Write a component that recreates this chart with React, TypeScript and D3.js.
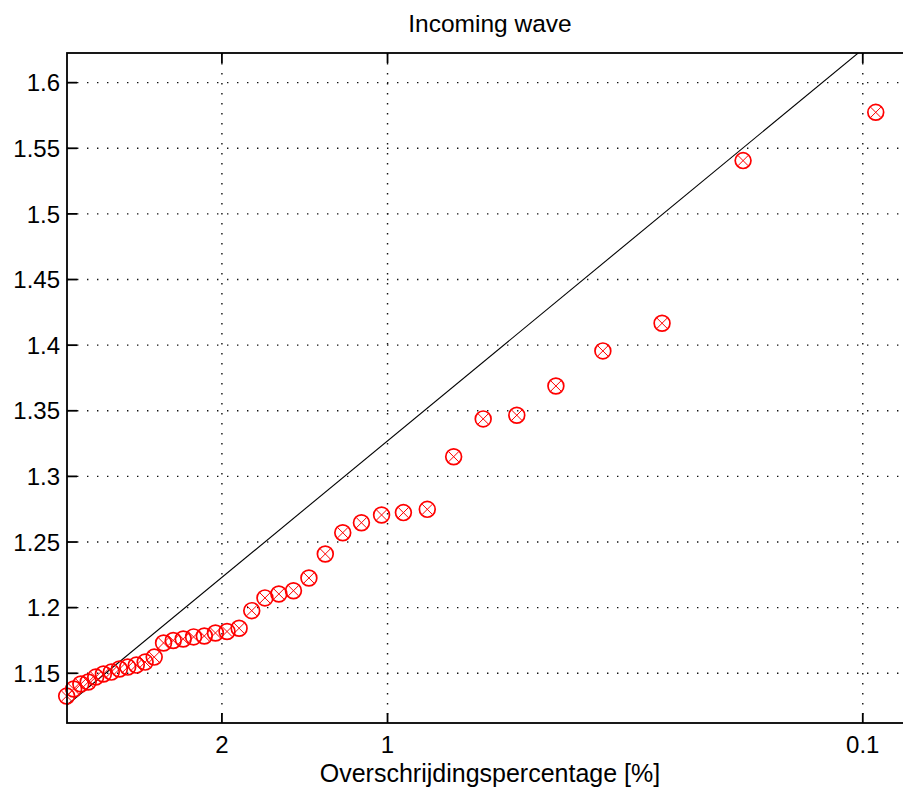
import React from 'react';
import * as d3 from 'd3';

// Exceedance percentage [%] of each ranked wave height
const exceedPct = [
  0.0933, 0.1866, 0.2799, 0.3732, 0.4665, 0.5598, 0.6531, 0.7464, 0.8397, 0.933,
  1.0263, 1.1196, 1.2129, 1.3062, 1.3995, 1.4928, 1.5861, 1.6794, 1.7727, 1.866,
  1.9593, 2.0526, 2.1459, 2.2392, 2.3325, 2.4258, 2.5191, 2.6124, 2.7057, 2.799,
  2.8923, 2.9856, 3.0789, 3.1722, 3.2655, 3.3588, 3.4521, 3.5454, 3.6387,
];
// Wave heights (incoming wave)
const waveH = [
  1.5774, 1.5406, 1.4167, 1.3956, 1.3689, 1.3466, 1.3438, 1.315, 1.2749, 1.2724,
  1.2706, 1.2647, 1.2571, 1.2409, 1.2226, 1.2129, 1.2104, 1.2074, 1.1977, 1.1843,
  1.1818, 1.1807, 1.1784, 1.1777, 1.1761, 1.175, 1.1731, 1.1623, 1.1585, 1.1562,
  1.1547, 1.1532, 1.1509, 1.1494, 1.1471, 1.1433, 1.1418, 1.138, 1.1326,
];
// Theoretical (Rayleigh) line, endpoints
const lineP = [3.634, 0.0763];
const lineH = [1.1258, 1.657];

const xTicks = [2, 1, 0.1];
const xTickLabels = ['2', '1', '0.1'];
const yTicks = [1.15, 1.2, 1.25, 1.3, 1.35, 1.4, 1.45, 1.5, 1.55, 1.6];
const xDomain = [3.634, 0.0763];
const yDomain = [1.1121, 1.6226];

const titleText = 'Incoming wave';
const xLabelText = 'Overschrijdingspercentage [%]';

const W = 903;
const H = 792;
const M = { left: 67, top: 53, right: 913, bottom: 723 };
const FONT = '"Liberation Sans", Arial, Helvetica, sans-serif';

// Rayleigh probability paper transform
const ray = (pct: number) => Math.sqrt(-Math.log(pct / 100));

export default function App() {
  const xs = d3.scaleLinear().domain(xDomain.map(ray)).range([M.left, M.right]);
  const ys = d3.scaleLinear().domain(yDomain).range([M.bottom, M.top]);
  const x = (p: number) => xs(ray(p));
  const y = (h: number) => ys(h);

  const linePath = d3
    .line<number>()
    .x((_, i) => x(lineP[i]))
    .y((d) => y(d))(lineH) as string;

  const r = 7.9;
  const a = r * 0.66;
  const tick = 10;
  const gridStyle = { stroke: '#111', strokeWidth: 1.4, strokeDasharray: '1.4 8.6' };

  return (
    <svg
      width={W}
      height={H}
      style={{ position: 'fixed', left: 0, top: 0, background: '#fff' }}
      fontFamily={FONT}
    >
      <rect x={0} y={0} width={W} height={H} fill="#fff" />
      <defs>
        <clipPath id="plotclip">
          <rect x={M.left} y={M.top} width={M.right - M.left} height={M.bottom - M.top} />
        </clipPath>
      </defs>

      {/* grid */}
      {yTicks.map((t) => (
        <line key={'gy' + t} x1={M.left} x2={M.right} y1={y(t)} y2={y(t)} {...gridStyle} />
      ))}
      {xTicks.map((t) => (
        <line key={'gx' + t} x1={x(t)} x2={x(t)} y1={M.top} y2={M.bottom} {...gridStyle} />
      ))}

      {/* theoretical line */}
      <path d={linePath} fill="none" stroke="#000" strokeWidth={1.1} clipPath="url(#plotclip)" />

      {/* data markers */}
      {waveH.map((h, i) => {
        const cx = x(exceedPct[i]);
        const cy = y(h);
        return (
          <g key={'m' + i} stroke="#ff0000" fill="none">
            <circle cx={cx} cy={cy} r={r} strokeWidth={1.7} />
            <line x1={cx - a} y1={cy - a} x2={cx + a} y2={cy + a} strokeWidth={1} />
            <line x1={cx - a} y1={cy + a} x2={cx + a} y2={cy - a} strokeWidth={1} />
          </g>
        );
      })}

      {/* axes box */}
      <rect
        x={M.left}
        y={M.top}
        width={M.right - M.left}
        height={M.bottom - M.top}
        fill="none"
        stroke="#000"
        strokeWidth={1.8}
      />

      {/* ticks */}
      {yTicks.map((t) => (
        <g key={'ty' + t}>
          <line x1={M.left} x2={M.left + tick} y1={y(t)} y2={y(t)} stroke="#000" strokeWidth={1.8} />
          <line x1={M.right} x2={M.right - tick} y1={y(t)} y2={y(t)} stroke="#000" strokeWidth={1.8} />
          <text x={60} y={y(t)} dy="0.36em" textAnchor="end" fontSize={24} fill="#000">
            {String(t)}
          </text>
        </g>
      ))}
      {xTicks.map((t, i) => (
        <g key={'tx' + t}>
          <line x1={x(t)} x2={x(t)} y1={M.bottom} y2={M.bottom - tick} stroke="#000" strokeWidth={1.8} />
          <line x1={x(t)} x2={x(t)} y1={M.top} y2={M.top + tick} stroke="#000" strokeWidth={1.8} />
          <text x={x(t)} y={753} textAnchor="middle" fontSize={24} fill="#000">
            {xTickLabels[i]}
          </text>
        </g>
      ))}

      {/* labels */}
      <text x={(M.left + M.right) / 2} y={32} textAnchor="middle" fontSize={24.5} fill="#000">
        {titleText}
      </text>
      <text x={(M.left + M.right) / 2} y={782} textAnchor="middle" fontSize={25} fill="#000">
        {xLabelText}
      </text>
    </svg>
  );
}
